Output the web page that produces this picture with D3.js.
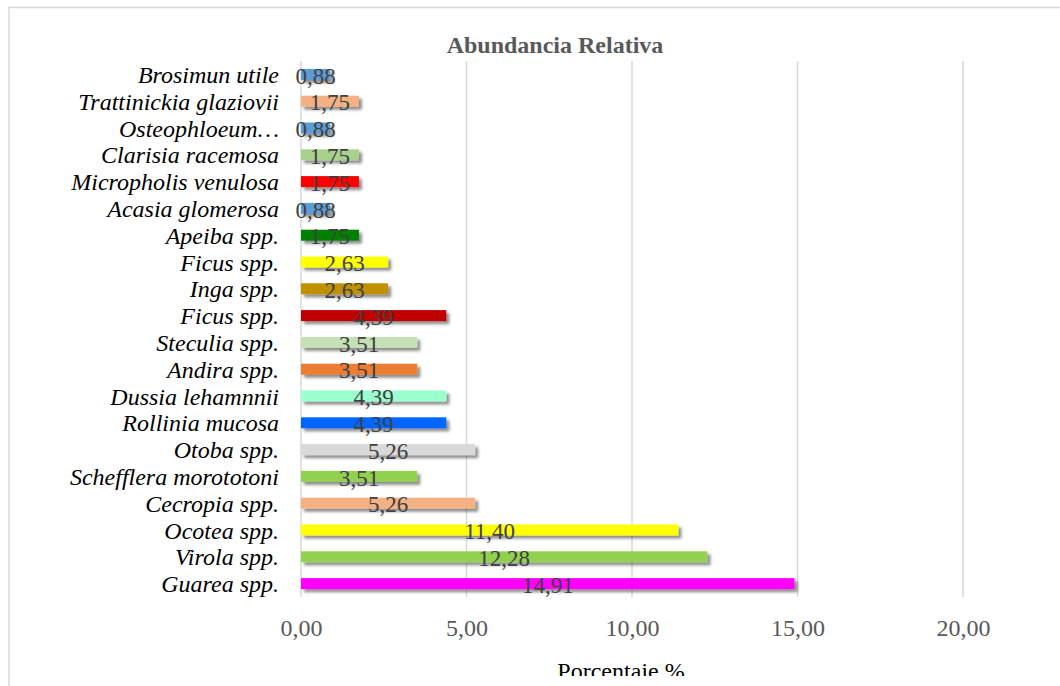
<!DOCTYPE html>
<html>
<head>
<meta charset="utf-8">
<script src="https://cdn.jsdelivr.net/npm/d3@7"></script>
<style>
  body { margin: 0; background: #fff; }
  svg { display: block; font-family: "Liberation Serif", "Times New Roman", serif; }
</style>
</head>
<body>
<div id="chart"></div>
<script>
// species, from top to bottom as drawn
const species = [
  "Brosimun utile", "Trattinickia glaziovii", "Osteophloeum…", "Clarisia racemosa",
  "Micropholis venulosa", "Acasia glomerosa", "Apeiba spp.", "Ficus spp.", "Inga spp.",
  "Ficus spp.", "Steculia spp.", "Andira spp.", "Dussia lehamnnii", "Rollinia mucosa",
  "Otoba spp.", "Schefflera morototoni", "Cecropia spp.", "Ocotea spp.", "Virola spp.",
  "Guarea spp."
];
const abundance = [
  0.88, 1.75, 0.88, 1.75, 1.75, 0.88, 1.75, 2.63, 2.63, 4.39,
  3.51, 3.51, 4.39, 4.39, 5.26, 3.51, 5.26, 11.40, 12.28, 14.91
];
const barColors = [
  "#5b9bd5", "#f4b183", "#5b9bd5", "#a9d18e", "#ff0000", "#5b9bd5", "#008000", "#ffff00", "#bf9000",
  "#c00000", "#c5e0b4", "#ed7d31", "#99ffcc", "#0066ff", "#d9d9d9", "#92d050", "#f4b183", "#ffff00",
  "#92d050", "#ff00ff"
];
const xTicks = [0, 5, 10, 15, 20];

const W = 1060, H = 686;
const margin = { top: 61, left: 301, right: 97, bottom: 89 };
const width = W - margin.left - margin.right,
  height = H - margin.top - margin.bottom;

const data = species.map((s, i) => ({ key: i, name: s, value: abundance[i], color: barColors[i] }));

const fmt = v => d3.format(".2f")(v).replace(".", ",");

let svg = d3.select("#chart").append("svg")
  .attr("width", W)
  .attr("height", H);

let defs = svg.append("defs");

// drop shadow used by the bars
defs.append("filter")
  .attr("id", "shadow")
  .attr("x", "-10%").attr("y", "-50%")
  .attr("width", "130%").attr("height", "250%")
  .append("feDropShadow")
  .attr("dx", 3).attr("dy", 3)
  .attr("stdDeviation", 1.8)
  .attr("flood-color", "#000")
  .attr("flood-opacity", 0.45);

// the picture is cut just under the axis title
defs.append("clipPath")
  .attr("id", "cut")
  .append("rect")
  .attr("x", 0).attr("y", 0)
  .attr("width", W).attr("height", 676);

// outer frame
svg.append("rect")
  .attr("x", 9).attr("y", 7.5)
  .attr("width", W + 20).attr("height", H + 20)
  .attr("fill", "none")
  .attr("stroke", "#d9d9d9")
  .attr("stroke-width", 1.5);

svg.append("text")
  .attr("x", 555)
  .attr("y", 53)
  .attr("text-anchor", "middle")
  .attr("font-weight", "bold")
  .attr("font-size", 24)
  .attr("fill", "#595959")
  .text("Abundancia Relativa");

let g = svg.append("g")
  .attr("transform", "translate(" + margin.left + "," + margin.top + ")");

let xScale = d3.scaleLinear()
  .domain([0, 20])
  .range([0, 662]);

let yScale = d3.scaleBand()
  .domain(data.map(d => d.key))
  .range([0, height])
  .paddingInner(0.59)
  .paddingOuter(0.295);

// grid lines
g.append("g")
  .selectAll("line")
  .data(xTicks)
  .enter()
  .append("line")
  .attr("x1", d => xScale(d))
  .attr("x2", d => xScale(d))
  .attr("y1", 0)
  .attr("y2", height)
  .attr("stroke", "#d9d9d9")
  .attr("stroke-width", 1.5);

// x axis
let xAxis = g.append("g")
  .attr("transform", "translate(0," + height + ")")
  .call(d3.axisBottom(xScale)
    .tickValues(xTicks)
    .tickSize(0)
    .tickPadding(22)
    .tickFormat(fmt));

xAxis.select(".domain").remove();
xAxis.selectAll("text")
  .attr("font-family", "Liberation Serif, serif")
  .attr("font-size", 24)
  .attr("fill", "#595959");

// y axis (category names)
let yAxis = g.append("g")
  .call(d3.axisLeft(yScale)
    .tickSize(0)
    .tickPadding(22)
    .tickFormat(k => species[k]));

yAxis.select(".domain").remove();
yAxis.selectAll("text")
  .attr("font-family", "Liberation Serif, serif")
  .attr("font-style", "italic")
  .attr("font-size", 24)
  .attr("dy", "0.36em")
  .attr("fill", "#000");

// bars
g.append("g")
  .selectAll("rect")
  .data(data)
  .enter()
  .append("rect")
  .attr("x", 0)
  .attr("y", d => yScale(d.key))
  .attr("width", d => xScale(d.value))
  .attr("height", yScale.bandwidth())
  .attr("fill", d => d.color)
  .attr("filter", "url(#shadow)");

// value labels
g.append("g")
  .selectAll("text")
  .data(data)
  .enter()
  .append("text")
  .attr("x", d => xScale(d.value) / 2)
  .attr("y", d => yScale(d.key) + yScale.bandwidth() / 2)
  .attr("dy", "0.4em")
  .attr("text-anchor", "middle")
  .attr("font-size", 23)
  .attr("fill", "#404040")
  .text(d => fmt(d.value));

// axis title
svg.append("text")
  .attr("clip-path", "url(#cut)")
  .attr("x", 621)
  .attr("y", 679)
  .attr("text-anchor", "middle")
  .attr("font-size", 24)
  .attr("fill", "#000")
  .text("Porcentaje %");
</script>
</body>
</html>
